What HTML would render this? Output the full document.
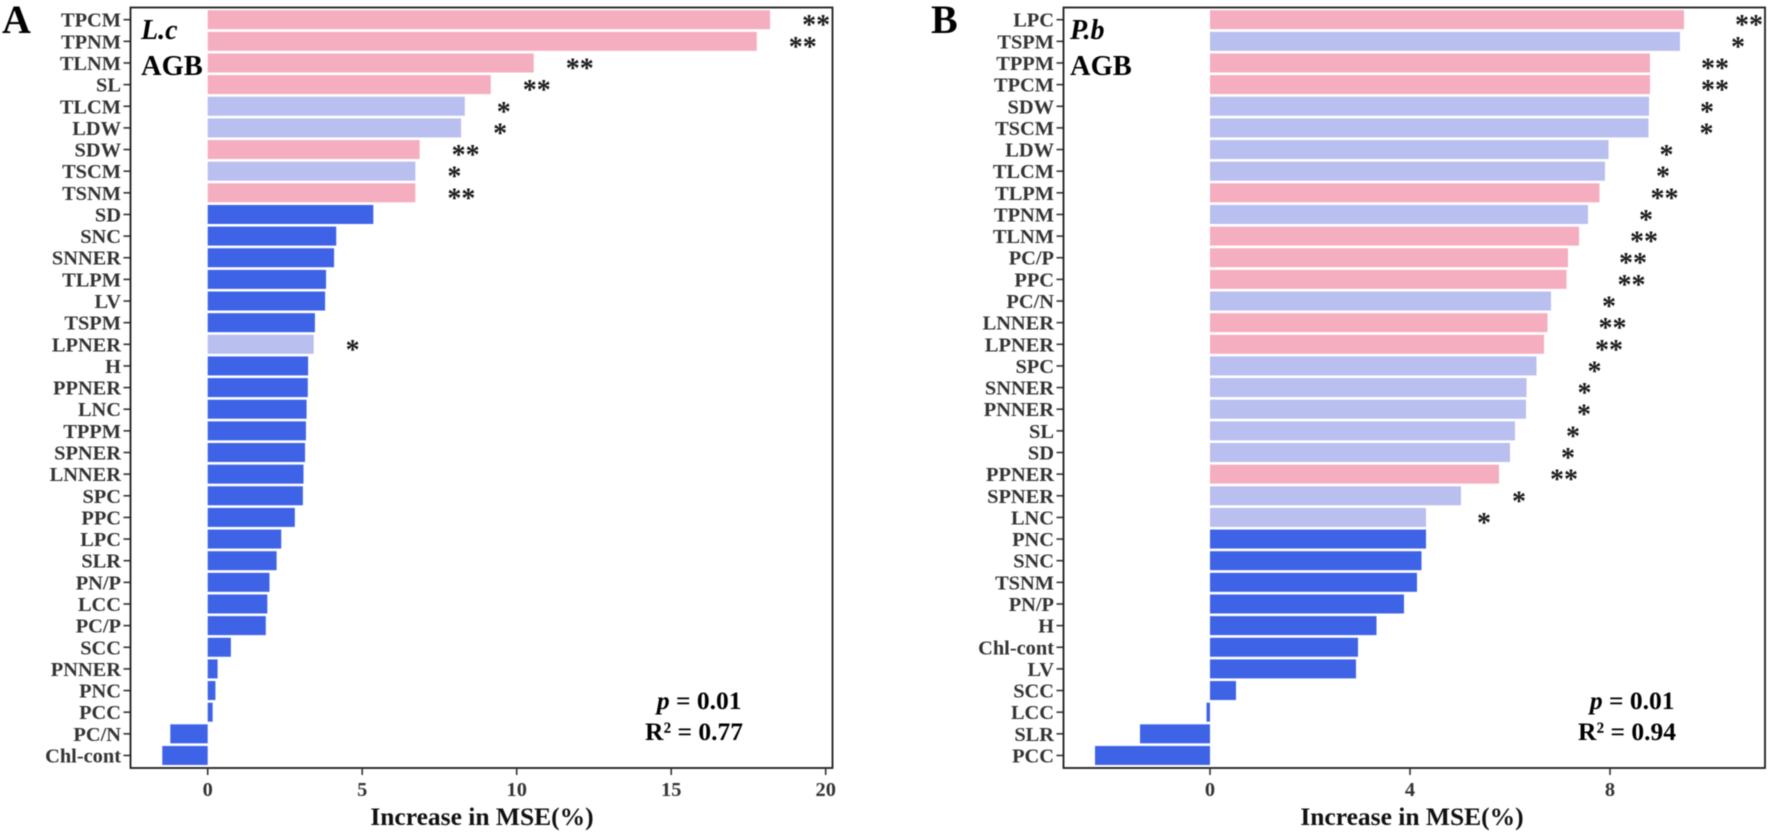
<!DOCTYPE html>
<html lang="en">
<head>
<meta charset="utf-8">
<title>Increase in MSE for AGB predictors</title>
<style>
html,body{margin:0;padding:0;background:#fff;}
svg{display:block;filter:blur(0.45px);}
text{font-family:"Liberation Serif",serif;font-weight:bold;}
</style>
</head>
<body>
<svg id="figure" xmlns="http://www.w3.org/2000/svg" width="1770" height="833" viewBox="0 0 1770 833"></svg>
<script>
var categoriesA = ["TPCM","TPNM","TLNM","SL","TLCM","LDW","SDW","TSCM","TSNM","SD","SNC","SNNER","TLPM","LV","TSPM","LPNER","H","PPNER","LNC","TPPM","SPNER","LNNER","SPC","PPC","LPC","SLR","PN/P","LCC","PC/P","SCC","PNNER","PNC","PCC","PC/N","Chl-cont"];
var valuesA = [18.2,17.77,10.55,9.16,8.32,8.2,6.86,6.72,6.72,5.36,4.16,4.09,3.83,3.8,3.47,3.43,3.25,3.24,3.2,3.18,3.15,3.1,3.08,2.82,2.38,2.23,2.0,1.93,1.88,0.75,0.32,0.25,0.16,-1.21,-1.47];
var significanceA = [2,2,2,2,1,1,2,1,2,0,0,0,0,0,0,1,0,0,0,0,0,0,0,0,0,0,0,0,0,0,0,0,0,0,0];
var ticksA = [0,5,10,15,20];

var categoriesB = ["LPC","TSPM","TPPM","TPCM","SDW","TSCM","LDW","TLCM","TLPM","TPNM","TLNM","PC/P","PPC","PC/N","LNNER","LPNER","SPC","SNNER","PNNER","SL","SD","PPNER","SPNER","LNC","PNC","SNC","TSNM","PN/P","H","Chl-cont","LV","SCC","LCC","SLR","PCC"];
var valuesB = [9.48,9.4,8.8,8.8,8.78,8.77,7.97,7.9,7.79,7.56,7.38,7.16,7.13,6.82,6.75,6.68,6.53,6.33,6.32,6.1,6.0,5.78,5.02,4.32,4.32,4.23,4.14,3.88,3.33,2.96,2.92,0.52,-0.07,-1.4,-2.3];
var significanceB = [2,1,2,2,1,1,1,1,2,1,2,2,2,1,2,2,1,1,1,1,1,2,1,1,0,0,0,0,0,0,0,0,0,0,0];
var ticksB = [0,4,8];

var SVG_NS = "http://www.w3.org/2000/svg";
var root = document.getElementById("figure");
var barColors = ["#3f63e6", "#b9bfee", "#f5aec0"];

function make(parent, tag, attrs, content) {
  var el = document.createElementNS(SVG_NS, tag);
  for (var k in attrs) { el.setAttribute(k, attrs[k]); }
  if (content !== undefined) { el.textContent = content; }
  parent.appendChild(el);
  return el;
}

function drawPanel(cfg) {
  var group = make(root, "g", {});
  
  

  var x = function (v) { return cfg.zeroX + v * cfg.unit; };
  var rowTop = 19.7, rowStep = 21.64, barH = 19;
  var y = function (i) { return rowTop + i * rowStep; };

  cfg.categories.forEach(function (name, i) {
    var v = cfg.values[i];
    var left = Math.min(x(0), x(v));
    var bar = make(group, "rect", {
      x: left, y: y(i) - barH / 2, width: Math.abs(x(v) - x(0)), height: barH,
      fill: barColors[cfg.significance[i]]
    });
    
    

    var tick = make(group, "line", {
      x1: cfg.left - 7, x2: cfg.left, y1: y(i), y2: y(i), stroke: "#333", "stroke-width": 1.6
    });
    
    

    var label = make(group, "text", {
      x: cfg.left - 9.5, y: y(i) + 7, "text-anchor": "end", "font-size": 20.4, fill: "#333"
    }, name);
    
    

    var level = cfg.significance[i];
    if (level > 0) {
      var star = make(group, "text", {
        x: x(v) + cfg.starGap, y: y(i) + 14.5, "font-size": 28, fill: "#1a1a1a"
      }, level === 2 ? "**" : "*");
      
      
    }
  });

  var frame = make(group, "rect", {
    x: cfg.left, y: 7.5, width: cfg.right - cfg.left, height: 760.5,
    fill: "none", stroke: "#1c1c1c", "stroke-width": 1.8
  });
  
  

  cfg.ticks.forEach(function (t) {
    var tick = make(group, "line", {
      x1: x(t), x2: x(t), y1: 768, y2: 775, stroke: "#333", "stroke-width": 1.6
    });
    
    

    var label = make(group, "text", {
      x: x(t), y: 796, "text-anchor": "middle", "font-size": 20.4, fill: "#333"
    }, String(t));
    
    
  });

  var title = make(group, "text", {
    x: cfg.titleX, y: 825, "text-anchor": "middle", "font-size": 25.5, fill: "#111"
  }, "Increase in MSE(%)");
  
  

  var letter = make(group, "text", {
    x: cfg.letterX, y: 33, "font-size": 40, fill: "#000"
  }, cfg.letter);
  
  

  var species = make(group, "text", {
    x: cfg.noteX, y: 39, "font-size": 28, "font-style": "italic", fill: "#000"
  }, cfg.species);
  
  

  var trait = make(group, "text", {
    x: cfg.noteX, y: 75, "font-size": 28.5, fill: "#000"
  }, "AGB");
  
  

  var pText = make(group, "text", {
    x: cfg.statsX - 1.5, y: 709, "text-anchor": "end", "font-size": 25.5, fill: "#000"
  });
  
  
  make(pText, "tspan", { "font-style": "italic" }, "p");
  make(pText, "tspan", {}, " = " + cfg.pValue);

  var rText = make(group, "text", {
    x: cfg.statsX, y: 740, "text-anchor": "end", "font-size": 25.5, fill: "#000"
  }, "R\u00B2 = " + cfg.r2);
  
  
}

drawPanel({
  key: "a", letter: "A", species: "L.c", pValue: "0.01", r2: "0.77",
  categories: categoriesA, values: valuesA, significance: significanceA, ticks: ticksA,
  left: 130.5, right: 832.5, zeroX: 207.7, unit: 30.9, starGap: 32,
  titleX: 482, letterX: 2, noteX: 141, statsX: 743
});
drawPanel({
  key: "b", letter: "B", species: "P.b", pValue: "0.01", r2: "0.94",
  categories: categoriesB, values: valuesB, significance: significanceB, ticks: ticksB,
  left: 1063.5, right: 1765, zeroX: 1210, unit: 50, starGap: 51,
  titleX: 1412, letterX: 931, noteX: 1070, statsX: 1676
});
</script>
</body>
</html>
